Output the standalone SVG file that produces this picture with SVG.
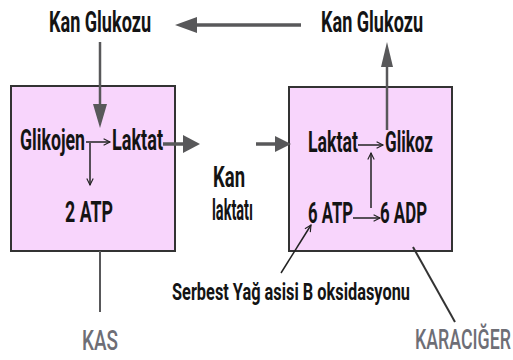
<svg xmlns="http://www.w3.org/2000/svg" width="513" height="360" viewBox="0 0 513 360">
  <defs>
    <style>
      .t { font-family: Roboto, "Liberation Sans", sans-serif; font-weight: 700; fill: #141414; }
      .big { font-size: 30px; }
      .mid { font-size: 24px; }
      .lbl { font-family: Roboto, "Liberation Sans", sans-serif; font-weight: 500; font-size: 28px; fill: #6e6e76; }
      .box { fill: #f8d5fc; stroke: #333; stroke-width: 2; }
      .gray { stroke: #58585a; fill: none; }
      .head { fill: #58585a; }
      .thin { stroke: #222; stroke-width: 1.5; fill: none; marker-end: url(#open); }
    </style>
    <marker id="open" viewBox="0 0 10 10" refX="9" refY="5" markerWidth="8" markerHeight="8" markerUnits="userSpaceOnUse" orient="auto" overflow="visible">
      <path d="M1,1 L9,5 L1,9" fill="none" stroke="#222" stroke-width="1.4"/>
    </marker>
  </defs>

  <g id="kas">
    <rect class="box" x="11" y="86" width="164" height="165"/>
    <text class="t big" x="20" y="150" textLength="65" lengthAdjust="spacingAndGlyphs">Glikojen</text>
    <text class="t big" x="112" y="150" textLength="51" lengthAdjust="spacingAndGlyphs">Laktat</text>
    <text class="t big" x="65" y="222" textLength="48" lengthAdjust="spacingAndGlyphs">2 ATP</text>
  </g>

  <g id="karaciger">
    <rect class="box" x="289" y="87" width="163" height="164"/>
    <text class="t big" x="308" y="152" textLength="50" lengthAdjust="spacingAndGlyphs">Laktat</text>
    <text class="t big" x="385" y="152" textLength="48" lengthAdjust="spacingAndGlyphs">Glikoz</text>
    <text class="t big" x="308" y="223" textLength="45" lengthAdjust="spacingAndGlyphs">6 ATP</text>
    <text class="t big" x="380" y="223" textLength="47" lengthAdjust="spacingAndGlyphs">6 ADP</text>
  </g>

  <g id="kan-glukozu-sol">
    <text class="t big" x="49" y="32" textLength="102" lengthAdjust="spacingAndGlyphs">Kan Glukozu</text>
  </g>
  <g id="kan-glukozu-sag">
    <text class="t big" x="321" y="32" textLength="102" lengthAdjust="spacingAndGlyphs">Kan Glukozu</text>
  </g>
  <g id="kan-laktati">
    <text class="t big" x="213" y="187" textLength="32" lengthAdjust="spacingAndGlyphs">Kan</text>
    <text class="t big" x="212" y="220" textLength="41" lengthAdjust="spacingAndGlyphs">laktatı</text>
  </g>
  <g id="serbest-yag">
    <text class="t mid" x="172" y="300" textLength="238" lengthAdjust="spacingAndGlyphs">Serbest Yağ asisi B oksidasyonu</text>
  </g>
  <g id="etiketler">
    <text class="lbl" x="82" y="350" textLength="36" lengthAdjust="spacingAndGlyphs">KAS</text>
    <text class="lbl" x="415" y="349" textLength="96" lengthAdjust="spacingAndGlyphs">KARACIĞER</text>
  </g>

  <g id="connectors">
    <!-- thick grey transport arrows -->
    <line class="gray" x1="301" y1="25" x2="195" y2="25" stroke-width="3.5"/>
    <polygon class="head" points="175,25 197,17 197,33"/>
    <line class="gray" x1="163" y1="144" x2="186" y2="144" stroke-width="3.5"/>
    <polygon class="head" points="200,144 183,135 183,153"/>
    <line class="gray" x1="256" y1="144" x2="278" y2="144" stroke-width="3.5"/>
    <polygon class="head" points="291,144 275,136 275,152"/>
    <line class="gray" x1="100" y1="42" x2="100" y2="106" stroke-width="2.5"/>
    <polygon class="head" points="100,128 93,104 107,104"/>
    <line class="gray" x1="387" y1="130" x2="387" y2="64" stroke-width="2.5"/>
    <polygon class="head" points="387,42 381,67 393,67"/>
    <!-- label leaders -->
    <line class="gray" x1="100" y1="251" x2="100" y2="312" stroke-width="2"/>
    <line x1="413" y1="247" x2="455" y2="322" stroke="#333" stroke-width="2"/>
    <!-- thin reaction arrows -->
    <line class="thin" x1="86" y1="142" x2="110" y2="142"/>
    <line class="thin" x1="90" y1="143" x2="90" y2="185"/>
    <line class="thin" x1="358" y1="145" x2="383" y2="145"/>
    <line class="thin" x1="371" y1="208" x2="371" y2="153"/>
    <line class="thin" x1="353" y1="218" x2="380" y2="218"/>
    <line class="thin" x1="281" y1="273" x2="311" y2="225" stroke-width="2"/>
  </g>
</svg>
